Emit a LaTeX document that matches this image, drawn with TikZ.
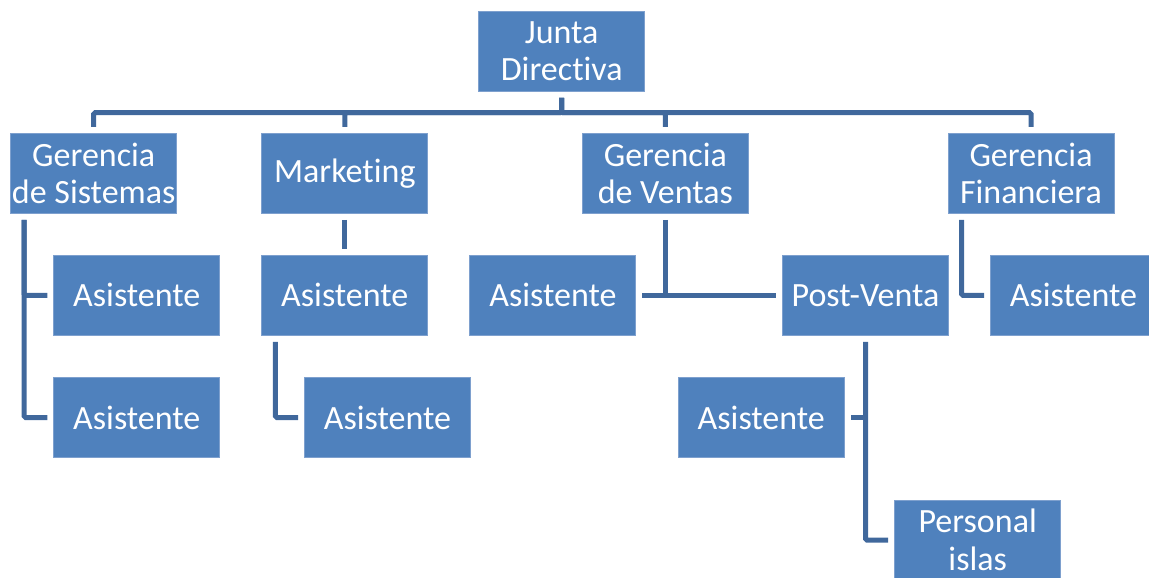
\documentclass[tikz,border=0pt]{standalone}
\usepackage{fontspec}
\setmainfont{Carlito}[Ligatures=NoCommon]
\usepackage{tikz}
\definecolor{cajaazul}{RGB}{79,129,189}
\definecolor{bordeazul}{RGB}{126,160,206}
\definecolor{lineaazul}{RGB}{64,104,156}
\tikzset{orgbox/.style = {draw=bordeazul,line width=1pt,fill=cajaazul,text=white,
	minimum width=166pt,minimum height=80pt,inner sep=0pt,align=center,
	font=\fontsize{34}{37.7}\selectfont}}
\tikzset{orgline/.style = {draw=lineaazul,line width=5pt,rounded corners=1.5pt}}
\NewDocumentCommand{\ramal}{O{14pt} m m}{%
	\draw[orgline,shorten <=6pt,shorten >=6pt] ([xshift=#1]#2.south west) |- (#3.west);
}

\begin{document}
\begin{tikzpicture}[x=1pt,y=-1pt]
\clip (0,0) rectangle (1149,578);
\node[orgbox] (junta) at (561.7,51.3) {Junta\\Directiva};
\node[orgbox] (sist) at (93.7,173.3) {Gerencia\\de Sistemas};
\node[orgbox] (mkt) at (344.8,173.3) {Marketing};
\node[orgbox] (ventas) at (665.3,173.3) {Gerencia\\de Ventas};
\node[orgbox] (fin) at (1031,173.3) {Gerencia\\Financiera};
\node[orgbox] (sistA1) at (136.8,295.3) {Asistente};
\node[orgbox] (sistA2) at (136.8,417.5) {Asistente};
\node[orgbox] (mktA1) at (344.8,295.3) {Asistente};
\node[orgbox] (mktA2) at (387.5,417.5) {Asistente};
\node[orgbox] (ventA) at (552.9,295.3) {Asistente};
\node[orgbox] (post) at (865.5,295.3) {Post-Venta};
\node[orgbox] (postA) at (761.3,417.5) {Asistente};
\node[orgbox] (personal) at (977.7,540) {Personal\\islas};
\node[orgbox] (finA) at (1073.5,295.3) {Asistente};
% junta directiva
\foreach \n in {sist,mkt,ventas,fin}
	\draw[orgline,shorten <=6pt,shorten >=6pt] (junta.south) -- ++(0,20.8) -| (\n.north);
% gerencias
\ramal{sist}{sistA1}
\ramal{sist}{sistA2}
\draw[orgline,shorten <=6pt,shorten >=6pt] (mkt.south) -- (mktA1.north);
\ramal{mktA1}{mktA2}
\draw[orgline,shorten <=6pt] (ventas.south) -- (ventas.south |- ventA.east);
\draw[orgline,shorten <=6pt,shorten >=6pt] (ventA.east) -- (post.west);
\draw[orgline,shorten <=6pt,shorten >=6pt] (post.south) |- (personal.west);
\draw[orgline,shorten >=6pt] (post.south |- postA.east) -- (postA.east);
\ramal{fin}{finA}
\end{tikzpicture}
\end{document}
